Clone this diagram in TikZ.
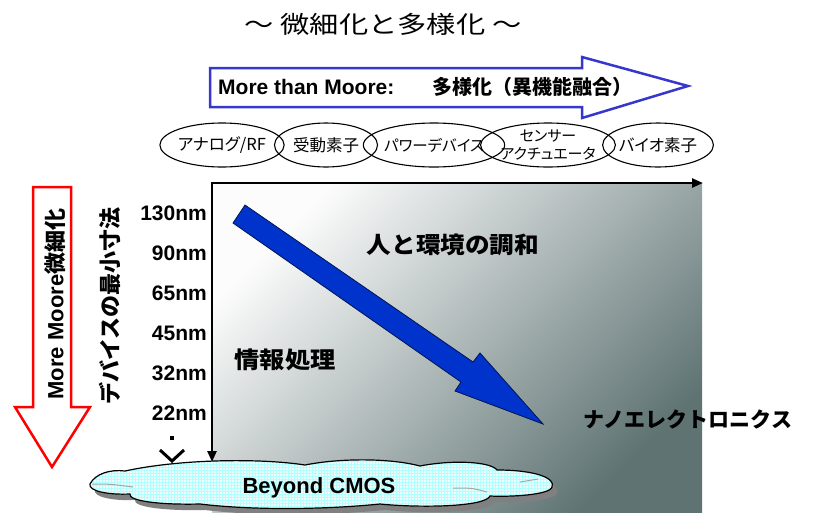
\documentclass[tikz,border=0pt]{standalone}
\usepackage{fontspec}
\usepackage{graphicx}
\setmainfont{Liberation Sans}
\newfontfamily\cjk{Noto Sans CJK JP}
\newfontfamily\cjkp[RawFeature=+palt]{Noto Sans CJK JP}
\newfontfamily\lat{Liberation Sans}
\usetikzlibrary{arrows.meta,patterns,shapes.geometric}
\newcommand\fsz[2]{\fontsize{#1pt}{#2pt}\selectfont}
\definecolor{mtmblue}{RGB}{55,55,205}
\definecolor{arrowblue}{RGB}{0,51,204}
\definecolor{arrowedge}{RGB}{0,20,80}
\definecolor{panellight}{RGB}{252,252,252}
\definecolor{panelmid}{RGB}{165,172,172}
\definecolor{paneldark}{RGB}{95,115,115}
\definecolor{cloudfill}{RGB}{238,252,252}
\tikzset{
  elab/.style={ellipse, draw, line width=1.1pt, minimum height=44pt, inner sep=0pt,
    font=\cjkp\fsz{16.5}{19}, align=center},
  nmlab/.style={anchor=east, inner sep=0pt, font=\lat\bfseries\fsz{21}{24}},
  bigjp/.style={inner sep=0pt, font=\cjk\bfseries\fsz{23}{26}},
  axisline/.style={line width=2.4pt, {Triangle[length=11pt,width=9pt]}-{Triangle[length=11pt,width=9pt]}},
  outarrow/.style={line width=2.5pt, fill=white, line join=miter},
}
\def\cloudpath{(90,484) .. controls (95,474) and (110,469) .. (125,471)
  .. controls (180,459) and (260,458) .. (305,465)
  .. controls (340,458) and (390,458) .. (420,466)
  .. controls (450,460) and (490,461) .. (497,470)
  .. controls (535,470) and (556,478) .. (552,487)
  .. controls (550,495) and (510,497) .. (490,496)
  .. controls (485,507) and (420,508) .. (380,504)
  .. controls (320,510) and (250,510) .. (200,504)
  .. controls (160,505) and (128,501) .. (130,494)
  .. controls (108,495) and (88,491) .. (90,484) -- cycle}
\begin{document}
\begin{tikzpicture}[x=1pt,y=-1pt]
\useasboundingbox (0,0) rectangle (813,512);
% gradient panel
\shade[top color=panellight, middle color=panelmid, bottom color=paneldark, shading angle=45]
  (212,183) rectangle (702,512);
% title
\node[inner sep=0pt, font=\cjk\fsz{24}{28}] (title) at (383,24) {\scalebox{1.22}[1]{～ 微細化と多様化 ～}};
% More than Moore arrow
\draw[outarrow, draw=mtmblue] (210,68) -- (582,68) -- (582,57) -- (688,86) -- (582,118) -- (582,107) -- (210,107) -- cycle;
\node[anchor=base west, inner sep=0pt, font=\lat\bfseries\fsz{21}{24}] (mtm1) at (218,94) {More than Moore:};
\node[anchor=base west, inner sep=0pt, font=\cjk\bfseries\fsz{20}{24}] (mtm2) at (432,94) {多様化（異機能融合）};
% ellipses
\node[elab, minimum width=106pt] (e1) at (222,145) {アナログ/RF};
\node[elab, minimum width=103pt] (e2) at (326,145) {受動素子};
\node[elab, minimum width=112pt, font=\cjkp\fsz{15.5}{19}] (e3) at (434,145) {パワーデバイス};
\node[elab, minimum width=116pt, font=\cjkp\fsz{15}{18}] (e4) at (548,145) {センサー\\アクチュエータ};
\node[elab, minimum width=108pt] (e5) at (658,145) {バイオ素子};
% axes
\coordinate (O) at (212,183);
\coordinate (XE) at (703,183);
\coordinate (YE) at (212,462);
\draw[axisline] (YE) -- (O) -- (XE);
% red arrow
\draw[outarrow, draw=red] (33,187) -- (71,187) -- (71,407) -- (90,407) -- (52,467) -- (15,407) -- (33,407) -- cycle;
\node[rotate=90, inner sep=0pt] (mm) at (55,304)
  {{\lat\bfseries\fsz{22}{26}More Moore}{\cjk\bfseries\fsz{22}{26}微細化}};
% device label
\node[rotate=90, inner sep=0pt, font=\cjk\bfseries\fsz{22}{26}] (dev) at (110,306) {デバイスの最小寸法};
% nm labels
\node[nmlab] (n130) at (207,213) {130nm};
\node[nmlab] (n90) at (207,253) {90nm};
\node[nmlab] (n65) at (207,293) {65nm};
\node[nmlab] (n45) at (207,333) {45nm};
\node[nmlab] (n32) at (207,373) {32nm};
\node[nmlab] (n22) at (207,413) {22nm};
% continuation mark
\fill (170,436) rectangle (174,440);
\draw[line width=3pt] (160,450) -- (172,461) -- (184,450);
% cloud
\fill[gray, shift={(5,6)}] \cloudpath;
\fill[cloudfill] \cloudpath;
\fill[pattern=grid, pattern color=cyan!30] \cloudpath;
\draw[line width=1.2pt] \cloudpath;
\draw[gray!70, line width=1pt] (92,484) .. controls (110,484) .. (133,487);
\draw[gray!70, line width=1pt] (453,488) .. controls (472,488) .. (487,492);
\draw[gray!70, line width=1pt] (520,482) -- (538,479);
\node[inner sep=0pt, font=\lat\bfseries\fsz{22}{26}] (bc) at (319,488) {Beyond CMOS};
% blue arrow
\draw[fill=arrowblue, draw=arrowedge, line width=0.8pt, line join=miter]
  (245,205) -- (473,362) -- (480,353) -- (543,424) -- (455,391) -- (461,382) -- (233,223) -- cycle;
% texts in panel
\node[bigjp] (harm) at (453,245) {\scalebox{1.07}[1]{人と環境の調和}};
\node[bigjp] (info) at (285,360) {\scalebox{1.1}[1]{情報処理}};
\node[inner sep=0pt, font=\cjk\bfseries\fsz{21}{24}] (nano) at (688,419) {ナノエレクトロニクス};
\end{tikzpicture}
\end{document}
